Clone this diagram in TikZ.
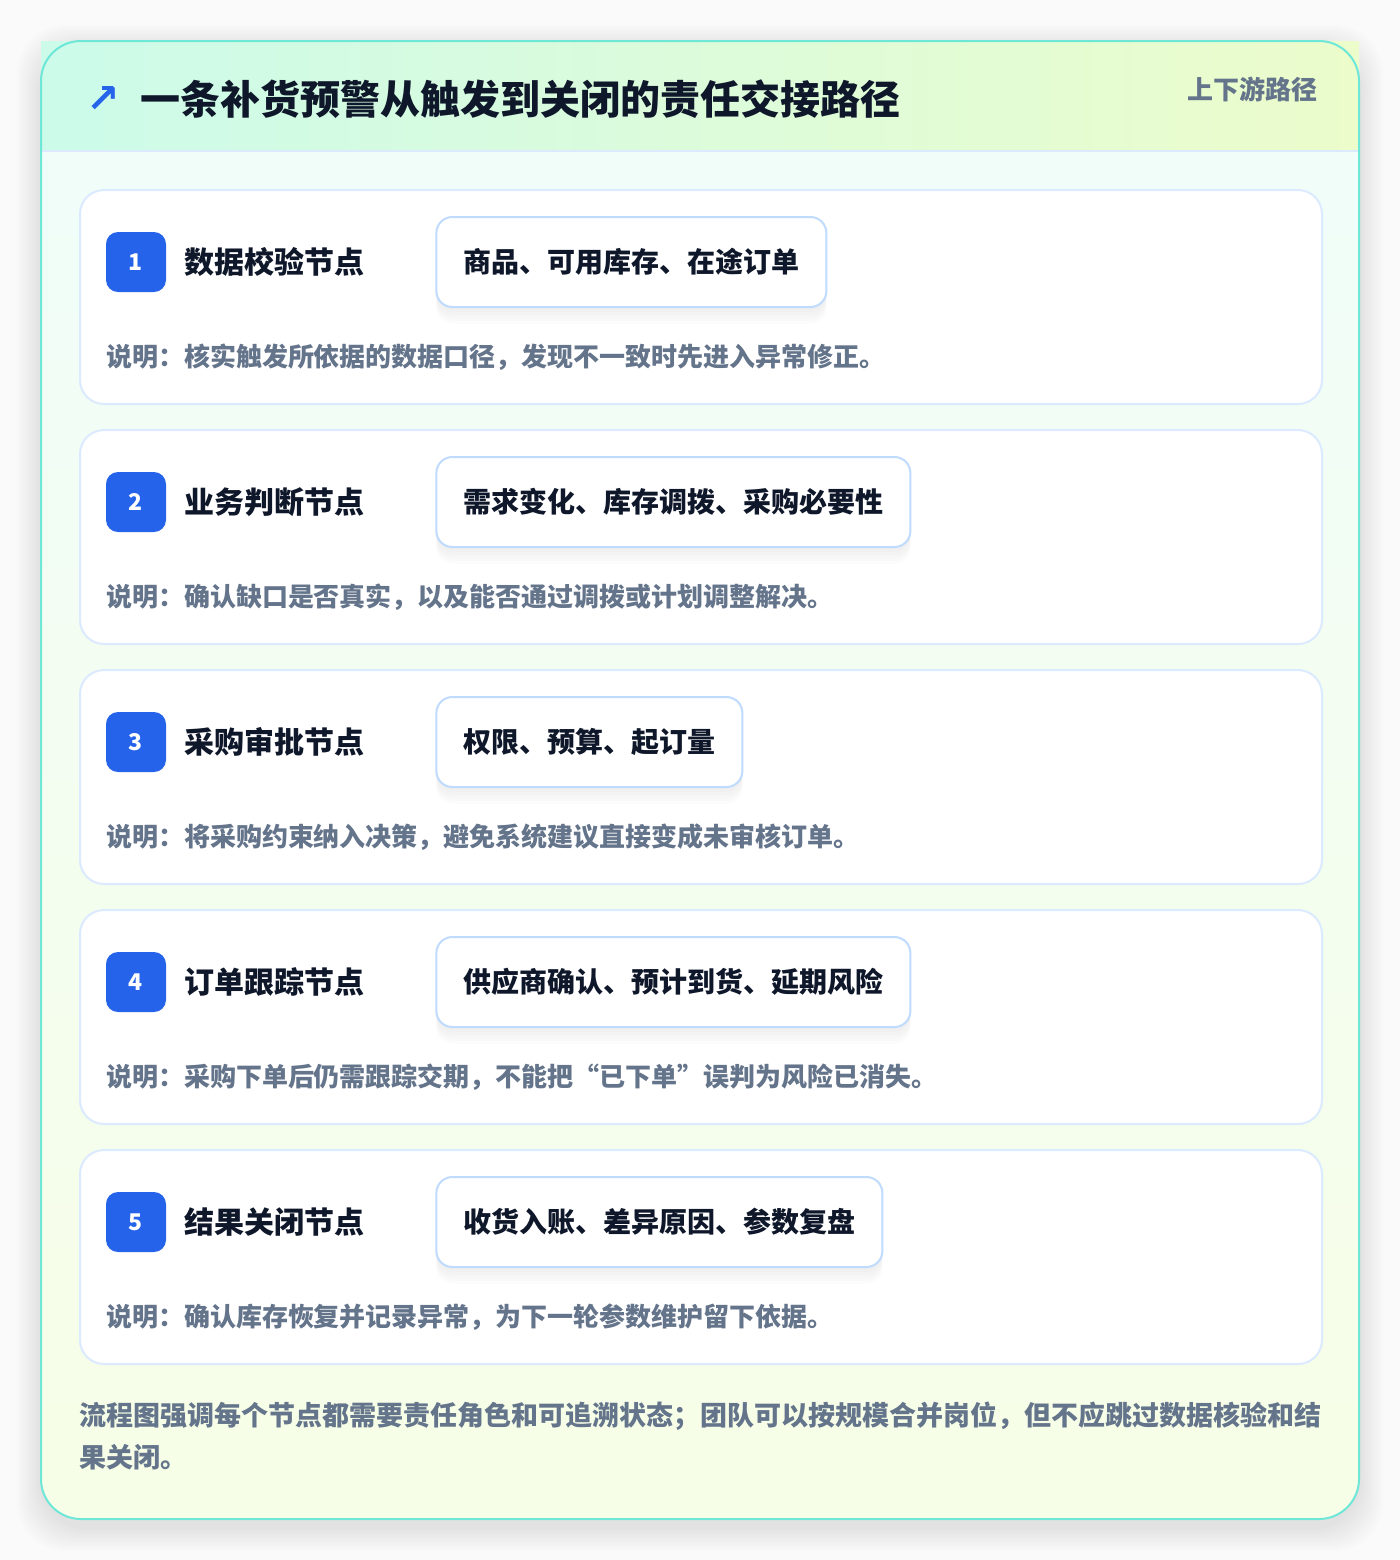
\documentclass[tikz,border=0pt]{standalone}
\usepackage{fontspec}
\setmainfont{Noto Sans CJK SC}
\newfontfamily\symfont{DejaVu Sans}
\usepackage{tikz}
\usetikzlibrary{positioning}
\usetikzlibrary{shadows}

\definecolor{pagebg}{HTML}{FAFAFB}
\definecolor{frameteal}{HTML}{6EE7D6}
\definecolor{headmint}{HTML}{CCFBEA}
\definecolor{headlime}{HTML}{ECFCCB}
\definecolor{bodytop}{HTML}{F0FDFA}
\definecolor{bodybottom}{HTML}{F7FEE7}
\definecolor{cardline}{HTML}{DBEAFE}
\definecolor{tagline}{HTML}{BFDBFE}
\definecolor{badgeblue}{HTML}{2563EB}
\definecolor{inkdark}{HTML}{0F172A}
\definecolor{inkgray}{HTML}{64748B}

\tikzset{
  card/.style={draw=cardline, line width=1pt, fill=white, rounded corners=12pt,
    minimum width=621pt, minimum height=107pt, inner sep=0pt},
  badge/.style={fill=badgeblue, text=white, rounded corners=6pt, minimum size=30pt,
    inner sep=0pt, font=\fontsize{11.5pt}{13pt}\selectfont\bfseries},
  steptitle/.style={inner sep=0pt, text=inkdark, font=\fontsize{15pt}{18pt}\selectfont\bfseries},
  softshadow/.style={drop shadow={shadow xshift=0pt, shadow yshift=#1, opacity=0.012, fill=black}},
  tagbox/.style={draw=tagline, line width=1pt, fill=white, rounded corners=8pt,
    inner sep=0pt, inner xsep=13.5pt, minimum height=45pt, text=inkdark,
    font=\fontsize{14pt}{17pt}\selectfont\bfseries,
    softshadow=-1pt, softshadow=-2.5pt, softshadow=-4pt, softshadow=-5.5pt,
    softshadow=-7pt, softshadow=-8.5pt},
  note/.style={inner sep=0pt, text=inkgray, font=\fontsize{13pt}{16pt}\selectfont\bfseries},
}

\begin{document}
\begin{tikzpicture}[x=0.5pt, y=-0.5pt]
    \useasboundingbox (0,0) rectangle (1400,1560);

        % Page, shadow and frame
        \fill[pagebg] (0,0) rectangle (1400,1560);
        \foreach \k in {1,...,12}
            \fill[black, opacity=0.006, rounded corners=24pt]
                ({41-2*\k},{49-2*\k}) rectangle ({1359+2*\k},{1527+2*\k});
        \path[top color=bodytop, bottom color=bodybottom, rounded corners=20pt]
            (41,41) rectangle (1359,1519);
        \path[left color=headmint, right color=headlime] (41,41) rectangle (1359,151);
        \draw[cardline, line width=1pt] (41,151) -- (1359,151);
        \draw[frameteal, line width=1pt, rounded corners=20pt] (41,41) rectangle (1359,1519);

        % Header
        \node[inner sep=0pt, anchor=west, text=inkdark,
              font=\fontsize{20pt}{24pt}\selectfont\bfseries] (title) at (140,99)
              {一条补货预警从触发到关闭的责任交接路径};
        \node[inner sep=0pt, left=10pt of title, text=badgeblue,
              font=\symfont\bfseries\fontsize{20pt}{22pt}\selectfont] (icon) {↗};
        \node[inner sep=0pt, anchor=east, text=inkgray,
              font=\fontsize{13pt}{15pt}\selectfont\bfseries] (route) at (1318,89) {上下游路径};

        % Steps
        \foreach \i/\name/\tags/\info in {
            1/数据校验节点/商品、可用库存、在途订单/说明：核实触发所依据的数据口径，发现不一致时先进入异常修正。,
            2/业务判断节点/需求变化、库存调拨、采购必要性/说明：确认缺口是否真实，以及能否通过调拨或计划调整解决。,
            3/采购审批节点/权限、预算、起订量/说明：将采购约束纳入决策，避免系统建议直接变成未审核订单。,
            4/订单跟踪节点/供应商确认、预计到货、延期风险/说明：采购下单后仍需跟踪交期，不能把“已下单”误判为风险已消失。,
            5/结果关闭节点/收货入账、差异原因、参数复盘/说明：确认库存恢复并记录异常，为下一轮参数维护留下依据。}
        {
            \node[card, anchor=north west] (card\i) at (79,{189+240*(\i-1)}) {};
            \node[badge] (num\i) at ([xshift=28.5pt, yshift=-36.5pt]card\i.north west) {\i};
            \node[steptitle, right=9pt of num\i] (name\i) {\name};
            \node[tagbox, right=134.5pt of num\i] (tags\i) {\tags};
            \node[note, anchor=west] (info\i) at ([yshift=-47.5pt]num\i.west) {\info};
        }

        % Footer
        \node[inner sep=0pt, anchor=west, align=left, text=inkgray,
              font=\fontsize{13.5pt}{21pt}\selectfont\bfseries] (foot) at (79,1436)
              {流程图强调每个节点都需要责任角色和可追溯状态；团队可以按规模合并岗位，但不应跳过数据核验和结\\果关闭。};

\end{tikzpicture}
\end{document}
